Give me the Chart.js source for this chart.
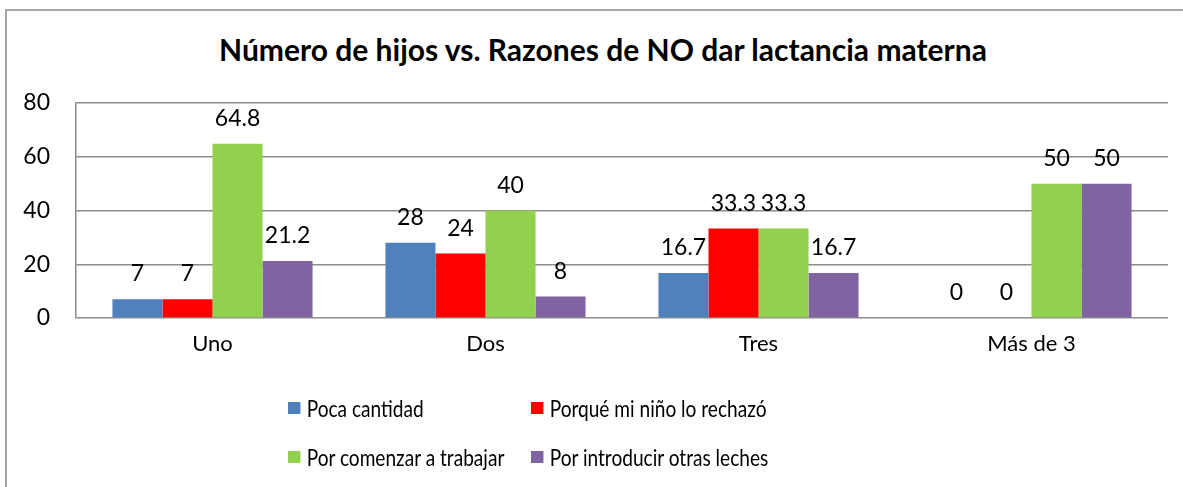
<!DOCTYPE html>
<html>
<head>
<meta charset="utf-8">
<script src="https://cdn.jsdelivr.net/npm/chart.js@4.4.1/dist/chart.umd.min.js"></script>
<style>
  html, body { margin: 0; padding: 0; background: #fff; }
  body { width: 1183px; height: 487px; position: relative; overflow: hidden; font-family: Lato, "Open Sans", sans-serif; }
  #frame { position: absolute; left: 5px; top: 9px; width: 1300px; height: 600px; border-top: 2px solid #a6a6a6; border-left: 2px solid #a6a6a6; }
  #title { position: absolute; left: 0; width: 1206px; top: 31px; text-align: center; font-weight: bold; font-size: 30px; line-height: 36px; color: #000; }
  canvas { position: absolute; left: 0; top: 0; }
  .legend-item { position: absolute; font-size: 23px; line-height: 28px; color: #000; white-space: nowrap; display: flex; align-items: center; transform: scaleX(0.83); transform-origin: left center; }
  .legend-box { width: 14.5px; height: 12px; margin-right: 8px; }
</style>
</head>
<body>
<div id="frame"></div>
<div id="title">Número de hijos vs. Razones de NO dar lactancia materna</div>
<canvas id="chart" width="1183" height="487"></canvas>
<div id="legend"></div>
<script>
// Valores
const categorias = ["Uno", "Dos", "Tres", "Más de 3"];
const pocaCantidad = [7, 28, 16.7, 0];
const porqueRechazo = [7, 24, 33.3, 0];
const comenzarTrabajar = [64.8, 40, 33.3, 50];
const otrasLeches = [21.2, 8, 16.7, 50];
const yTicks = [0, 20, 40, 60, 80];

const series = [
  { label: "Poca cantidad", data: pocaCantidad, color: "#4f81bd" },
  { label: "Porqué mi niño lo rechazó", data: porqueRechazo, color: "#ff0000" },
  { label: "Por comenzar a trabajar", data: comenzarTrabajar, color: "#92d050" },
  { label: "Por introducir otras leches", data: otrasLeches, color: "#8064a2" },
];

const FONT = "Lato, 'Open Sans', sans-serif";

// etiquetas de valor encima de cada barra
const valueLabels = {
  id: "valueLabels",
  afterDatasetsDraw(chart) {
    const ctx = chart.ctx;
    ctx.save();
    ctx.font = `23px ${FONT}`;
    ctx.fillStyle = "#000";
    ctx.textAlign = "center";
    ctx.textBaseline = "alphabetic";
    chart.data.datasets.forEach((ds, i) => {
      chart.getDatasetMeta(i).data.forEach((bar, j) => {
        ctx.fillText(String(ds.data[j]), bar.x, bar.y - 18);
      });
    });
    ctx.restore();
  },
};

new Chart(document.getElementById("chart"), {
  type: "bar",
  data: {
    labels: categorias,
    datasets: series.map((s) => ({
      label: s.label,
      data: s.data,
      backgroundColor: s.color,
      borderWidth: 0,
      categoryPercentage: 0.733,
      barPercentage: 1,
    })),
  },
  options: {
    responsive: false,
    animation: false,
    layout: { padding: { top: 103, right: 15, left: 0, bottom: 109 } },
    plugins: { legend: { display: false }, title: { display: false }, tooltip: { enabled: false } },
    scales: {
      x: {
        grid: { display: false, drawTicks: false },
        border: { display: false },
        ticks: { color: "#000", font: { family: FONT, size: 22 }, padding: 13 },
        afterFit: (scale) => { scale.height = 60; },
      },
      y: {
        min: 0,
        max: 80,
        afterBuildTicks: (scale) => { scale.ticks = yTicks.map((v) => ({ value: v })); },
        grid: { color: "#8c8c8c", lineWidth: 1.5, drawTicks: false },
        border: { display: true, color: "#8c8c8c", width: 1.5 },
        ticks: { color: "#000", font: { family: FONT, size: 23 }, padding: 26 },
        afterFit: (scale) => { scale.width = 76; },
      },
    },
  },
  plugins: [valueLabels],
});

// leyenda en dos columnas, como en el original
const legend = document.getElementById("legend");
const cols = [288, 531];
const rows = [394, 443];
series.forEach((s, i) => {
  const item = document.createElement("div");
  item.className = "legend-item";
  item.style.left = cols[i % 2] + "px";
  item.style.top = rows[Math.floor(i / 2)] + "px";
  item.innerHTML = `<span class="legend-box" style="background:${s.color}"></span>${s.label}`;
  legend.appendChild(item);
});
</script>
</body>
</html>
